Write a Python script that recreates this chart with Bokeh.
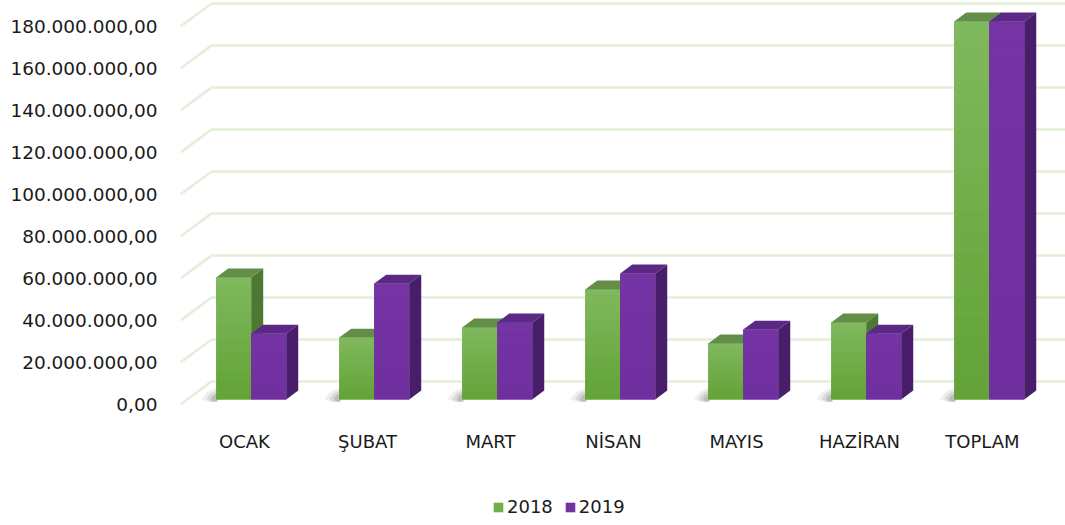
from bokeh.plotting import figure
from bokeh.models import Range1d, LinearAxis, FixedTicker, Legend, LegendItem, ColumnDataSource
from bokeh.embed import file_html
from bokeh.resources import INLINE

# ---------------- data ----------------
categories = ["OCAK", "ŞUBAT", "MART", "NİSAN", "MAYIS", "HAZİRAN", "TOPLAM"]
values_2018 = [58.1, 29.5, 34.3, 52.4, 26.7, 36.7, 180.0]   # million TL
values_2019 = [31.4, 55.2, 36.7, 60.0, 33.3, 31.4, 180.0]   # million TL
series_names = ["2018", "2019"]
y_ticks = [0, 20, 40, 60, 80, 100, 120, 140, 160, 180]
y_tick_labels = ["0,00", "20.000.000,00", "40.000.000,00", "60.000.000,00",
                 "80.000.000,00", "100.000.000,00", "120.000.000,00",
                 "140.000.000,00", "160.000.000,00", "180.000.000,00"]

# ---------------- style ----------------
DX, DY = 0.252, 10.952       # full depth of the 3D box (x in category units, y in millions)
FRONT, BACK = 0.217, 0.604   # depth of bar front / back faces
W = 0.2846                   # bar width in category units
XL, XR = -0.5203, 6.6748
YB, YT = -57.619, 192.381
FONT = "DejaVu Sans"
TXT = "#1a1a1a"
GRID = "#e2efd9"
# (front bottom, front top, top face, side face)
colors = {
    "2018": ("#62a236", "#80b95e", "#638e47", "#4d7833"),
    "2019": ("#6f2f9f", "#7434a4", "#5b2886", "#481d6a"),
}
NSTRIP = 18


def mix(c1, c2, t):
    a = [int(c1[i:i + 2], 16) for i in (1, 3, 5)]
    b = [int(c2[i:i + 2], 16) for i in (1, 3, 5)]
    return "#%02x%02x%02x" % tuple(round(a[k] + (b[k] - a[k]) * t) for k in range(3))


p = figure(width=1065, height=525, x_range=Range1d(XL, XR), y_range=Range1d(YB, YT),
           output_backend="svg", toolbar_location=None,
           x_axis_type=None, y_axis_type=None,
           min_border_left=180, min_border_right=0, min_border_top=0, min_border_bottom=0)
p.outline_line_color = None
p.background_fill_color = "white"
p.border_fill_color = "white"

# 3D grid: diagonal on the left side wall + horizontal on the back wall
diag = ColumnDataSource(dict(x0=[XL] * len(y_ticks), y0=y_ticks,
                             x1=[XL + DX] * len(y_ticks), y1=[t + DY for t in y_ticks]))
p.segment("x0", "y0", "x1", "y1", source=diag, line_color=GRID, line_width=2.5)
back = ColumnDataSource(dict(x0=[XL + DX] * len(y_ticks), y0=[t + DY for t in y_ticks],
                             x1=[XR] * len(y_ticks), y1=[t + DY for t in y_ticks]))
p.segment("x0", "y0", "x1", "y1", source=back, line_color=GRID, line_width=2.5)

# soft shadows on the floor, left of each bar pair
yb0 = FRONT * DY
for k, (ext, hgt, alpha) in enumerate([(0.12, 6.0, 0.10), (0.08, 4.5, 0.14), (0.045, 3.0, 0.2)]):
    sxs, sys_ = [], []
    for i in range(len(categories)):
        xg = i + FRONT * DX - W
        sxs.append([xg + 0.01, xg + 0.01, xg - ext * 0.6, xg - ext, xg - ext * 0.5])
        sys_.append([yb0 - 1.0, yb0 + hgt, yb0 + hgt * 0.6, yb0 + 0.2, yb0 - 1.2])
    p.patches(sxs, sys_, fill_color="#555555", fill_alpha=alpha, line_color=None)

front_renderers = {}
ddx, ddy = (BACK - FRONT) * DX, (BACK - FRONT) * DY
for s, (name, vals) in enumerate(zip(series_names, [values_2018, values_2019])):
    fb, ft, tc, sc = colors[name]
    lefts, rights, tops, bottoms = [], [], [], []
    top_xs, top_ys, side_xs, side_ys = [], [], [], []
    for i, v in enumerate(vals):
        c = i + FRONT * DX
        x0 = c + (s - 1) * W
        x1 = x0 + W
        y0 = FRONT * DY
        y1 = v + FRONT * DY
        lefts.append(x0); rights.append(x1); bottoms.append(y0); tops.append(y1)
        top_xs.append([x0, x1, x1 + ddx, x0 + ddx])
        top_ys.append([y1, y1, y1 + ddy, y1 + ddy])
        side_xs.append([x1, x1, x1 + ddx, x1 + ddx])
        side_ys.append([y0, y1, y1 + ddy, y0 + ddy])
    # base front face (used for the legend)
    r = p.quad(left=lefts, right=rights, bottom=bottoms, top=tops,
               fill_color=mix(fb, ft, 0.5), line_color=None)
    front_renderers[name] = r
    # vertical gradient on the front face
    gl, gr, gb, gt, gc = [], [], [], [], []
    for x0, x1, y0, y1 in zip(lefts, rights, bottoms, tops):
        for k in range(NSTRIP):
            gl.append(x0); gr.append(x1)
            gb.append(y0 + (y1 - y0) * k / NSTRIP)
            gt.append(y0 + (y1 - y0) * (k + 1) / NSTRIP + 0.05)
            gc.append(mix(fb, ft, (k + 0.5) / NSTRIP))
    p.quad(left=gl, right=gr, bottom=gb, top=gt, fill_color=gc, line_color=None)
    p.patches(top_xs, top_ys, fill_color=tc, line_color=None)
    p.patches(side_xs, side_ys, fill_color=sc, line_color=None)

# axes
yaxis = LinearAxis(ticker=FixedTicker(ticks=y_ticks),
                   major_label_overrides={t: l for t, l in zip(y_ticks, y_tick_labels)})
yaxis.axis_line_color = None
yaxis.major_tick_line_color = None
yaxis.minor_tick_line_color = None
yaxis.major_tick_out = 0
yaxis.major_tick_in = 0
yaxis.major_label_standoff = 23
yaxis.major_label_text_font = FONT
yaxis.major_label_text_font_size = "18.5px"
yaxis.major_label_text_color = TXT
p.add_layout(yaxis, "left")

xticks = list(range(len(categories)))
xaxis = LinearAxis(ticker=FixedTicker(ticks=xticks), fixed_location=-10,
                   major_label_overrides={i: c for i, c in zip(xticks, categories)})
xaxis.axis_line_color = None
xaxis.major_tick_line_color = None
xaxis.minor_tick_line_color = None
xaxis.major_tick_out = 0
xaxis.major_tick_in = 0
xaxis.major_label_standoff = 5
xaxis.major_label_text_font = FONT
xaxis.major_label_text_font_size = "18px"
xaxis.major_label_text_color = TXT
p.add_layout(xaxis, "below")

legend = Legend(items=[LegendItem(label=n, renderers=[front_renderers[n]]) for n in series_names],
                orientation="horizontal", location=(312, 8),
                border_line_color=None, background_fill_alpha=0,
                glyph_width=12, glyph_height=12, label_standoff=3, spacing=11,
                padding=0, margin=0,
                label_text_font=FONT, label_text_font_size="18px", label_text_color=TXT)
p.add_layout(legend, "center")

open("out.html", "w").write(file_html(p, INLINE))
